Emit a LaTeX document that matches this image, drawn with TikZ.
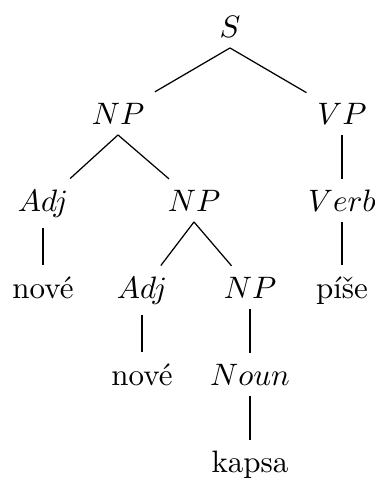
\documentclass[tikz,border=0pt]{standalone}
\usepackage{amsmath}
\usetikzlibrary{positioning}

\begin{document}
\begin{tikzpicture}[
		x=0.3226pt, y=-0.3226pt,
		cat/.style={anchor=base},
		word/.style={anchor=base},
		branch/.style={draw}
		]
		\useasboundingbox (0,0) rectangle (375,479);
		
		% 1. Root
		\node[cat] (s) at (230,37) {$S$};
		
		% 2. First level
		\node[cat] (np) at (118,124) {$NP$};
		\node[cat] (vp) at (342,124) {$VP$};
		
		% 3. Second level
		\node[cat] (adj) at (43,211) {$Adj$};
		\node[cat] (npb) at (194,211) {$NP$};
		\node[cat] (verb) at (342,211) {$Verb$};
		
		% 4. Third level
		\node[word] (nove) at (43,298) {nové};
		\node[cat] (adjb) at (142,298) {$Adj$};
		\node[cat] (npc) at (250,298) {$NP$};
		\node[word] (pise) at (342,298) {píše};
		
		% 5. Fourth level
		\node[word] (noveb) at (142,385) {nové};
		\node[cat] (noun) at (250,385) {$Noun$};
		
		% 6. Leaf
		\node[word] (kapsa) at (250,472) {kapsa};
		
		% Branches
		\draw[branch] (s.south) -- (np);
		\draw[branch] (s.south) -- (vp);
		\draw[branch] (np.south) -- (adj);
		\draw[branch] (np.south) -- (npb);
		\draw[branch] (vp.south) -- (verb);
		\draw[branch] (adj.south) -- (nove);
		\draw[branch] (npb.south) -- (adjb);
		\draw[branch] (npb.south) -- (npc);
		\draw[branch] (verb.south) -- (pise);
		\draw[branch] (adjb.south) -- (noveb);
		\draw[branch] (npc.south) -- (noun);
		\draw[branch] (noun.south) -- (kapsa);
		
	\end{tikzpicture}
\end{document}
